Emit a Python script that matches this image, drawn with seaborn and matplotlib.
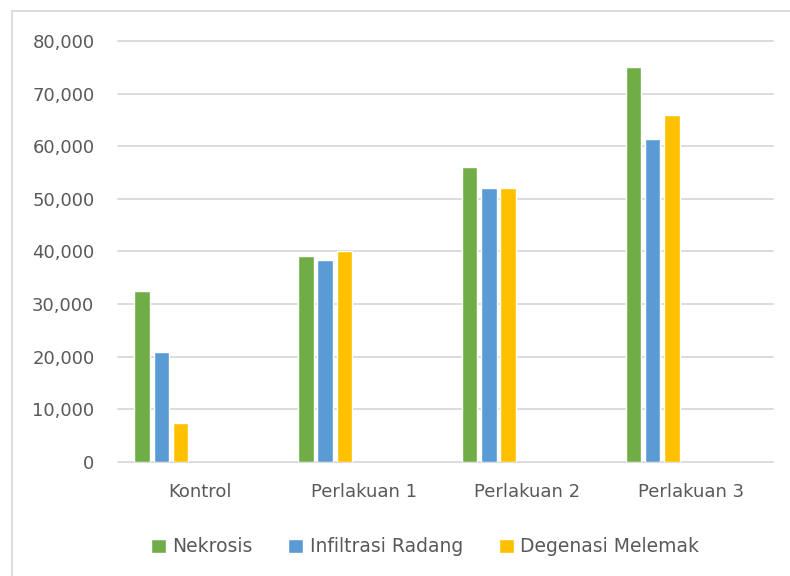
import numpy as np
import pandas as pd
import matplotlib
matplotlib.use("Agg")
import matplotlib.pyplot as plt
import seaborn as sns
from matplotlib.patches import Patch
from matplotlib.lines import Line2D
from matplotlib.ticker import FuncFormatter

# data
kelompok = ["Kontrol", "Perlakuan 1", "Perlakuan 2", "Perlakuan 3"]
nekrosis = [32500, 39100, 56000, 75000]
infiltrasi = [20900, 38400, 52100, 61300]
degenasi = [7400, 40000, 52000, 66000]
seri = ["Nekrosis", "Infiltrasi Radang", "Degenasi Melemak"]
warna = ["#70AD47", "#5B9BD5", "#FFC000"]

# the excel chart keeps room for 7 series, only 3 are filled
kosong = ["_s4", "_s5", "_s6", "_s7"]

rows = []
for s, vals in zip(seri, [nekrosis, infiltrasi, degenasi]):
    for k, v in zip(kelompok, vals):
        rows.append({"kelompok": k, "seri": s, "nilai": v})
df = pd.DataFrame(rows)

palette = dict(zip(seri, warna))
for k in kosong:
    palette[k] = "#ffffff"

sns.set_style("white")
plt.rcParams["font.family"] = ["DejaVu Sans"]
teks = "#595959"

fig = plt.figure(figsize=(7.9, 5.76), dpi=100)
ax = fig.add_axes([118 / 790, 1 - 462 / 576, 655 / 790, 421 / 576])

sns.barplot(data=df, x="kelompok", y="nilai", hue="seri", order=kelompok,
            hue_order=seri + kosong, palette=palette, width=7 / 8.5, gap=0.2,
            saturation=1, legend=False, ax=ax, errorbar=None)

ax.set_ylim(0, 80000)
ax.set_yticks(np.arange(0, 80001, 10000))
ax.yaxis.set_major_formatter(FuncFormatter(lambda v, p: f"{v:,.0f}"))
ax.set_xlim(-0.5, 3.5)
ax.grid(axis="y", color="#d9d9d9", linewidth=1.3)
ax.set_axisbelow(True)
for gl in ax.get_ygridlines():
    gl.set_clip_on(False)
for sp in ax.spines.values():
    sp.set_visible(False)
ax.set_xlabel("")
ax.set_ylabel("")
ax.tick_params(axis="y", length=0, pad=17, labelsize=13, labelcolor=teks)
ax.tick_params(axis="x", length=0, pad=15, labelsize=13, labelcolor=teks)

handles = [Patch(facecolor=c, label=s) for s, c in zip(seri, warna)]
fig.legend(handles=handles, loc="center", bbox_to_anchor=(425 / 790, 1 - 547 / 576),
           ncol=3, frameon=False, fontsize=13.5, labelcolor=teks,
           handlelength=0.8, handleheight=0.8, handletextpad=0.35,
           columnspacing=1.9)

# chart area border (top and left edges visible in the crop)
fig.add_artist(Line2D([12 / 790, 1], [1 - 10.5 / 576] * 2, transform=fig.transFigure,
                      color="#d9d9d9", linewidth=1.3))
fig.add_artist(Line2D([12 / 790] * 2, [0, 1 - 10.5 / 576], transform=fig.transFigure,
                      color="#d9d9d9", linewidth=1.3))

fig.savefig("out.png", dpi=100)
